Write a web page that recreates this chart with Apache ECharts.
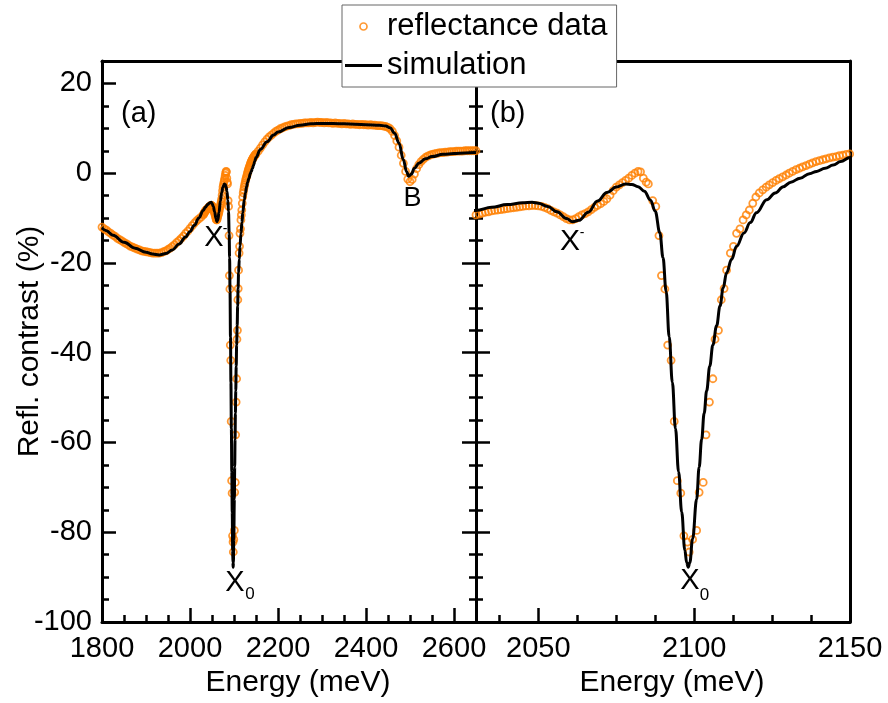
<!DOCTYPE html>
<html><head><meta charset="utf-8">
<script src="https://cdn.jsdelivr.net/npm/echarts@6/dist/echarts.min.js"></script>
<style>html,body{margin:0;padding:0;background:#fff}#c{width:888px;height:703px}</style>
</head><body><div id="c"></div>
<script>
// ---- tick labels ----
const xMajorA = [1800, 2000, 2200, 2400, 2600];
const xMinorA = [1850, 1900, 1950, 2050, 2100, 2150, 2250, 2300, 2350, 2450, 2500, 2550, 2650];
const xMajorB = [2050, 2100, 2150];
const xMinorB = [2037.5, 2062.5, 2075, 2087.5, 2112.5, 2125, 2137.5];
const yMajor = [-100, -80, -60, -40, -20, 0, 20];
const yMinor = [-95, -90, -85, -75, -70, -65, -55, -50, -45, -35, -30, -25, -15, -10, -5, 5, 10, 15, 25];

// ---- reflectance data [energy meV, contrast %] ----
const reflLow = [[1800,-12.0],[1805,-12.4],[1810,-12.7],[1815,-13.1],[1820,-13.4],[1825,-13.8],[1830,-14.1],[1835,-14.5],[1840,-14.8],[1845,-15.1],[1850,-15.4],[1855,-15.7],[1860,-16.0],[1865,-16.3],[1870,-16.5],[1875,-16.7],[1880,-16.9],[1885,-17.1],[1890,-17.3],[1895,-17.4],[1900,-17.5],[1905,-17.6],[1910,-17.7],[1915,-17.8],[1920,-17.8],[1925,-17.8],[1930,-17.8],[1935,-17.7],[1940,-17.5],[1945,-17.3],[1950,-17.0],[1955,-16.7],[1960,-16.3],[1965,-15.9],[1970,-15.4],[1975,-15.0],[1980,-14.5],[1985,-14.0],[1990,-13.4],[1995,-12.9],[2000,-12.3],[2005,-11.7],[2010,-11.1],[2015,-10.6],[2020,-10.2],[2025,-9.8]];
const reflTrion = [[2030,-9.3],[2031,-9.1],[2032,-8.9],[2033,-8.7],[2034,-8.6],[2035,-8.4],[2036,-8.3],[2037,-8.2],[2038,-8.1],[2039,-8.0],[2040,-7.9],[2041,-7.8],[2042,-7.7],[2043,-7.6],[2044,-7.5],[2045,-7.4],[2046,-7.3],[2047,-7.3],[2048,-7.2],[2049,-7.2],[2050,-7.3],[2051,-7.4],[2052,-7.6],[2053,-7.9],[2054,-8.3],[2055,-8.6],[2056,-8.9],[2057,-9.3],[2058,-9.7],[2059,-10.1],[2060,-10.4],[2061,-10.4],[2062,-10.1],[2063,-9.7],[2064,-9.3],[2065,-9.0],[2066,-8.6],[2067,-8.1],[2068,-7.6],[2069,-7.2],[2070,-6.8],[2071,-6.3],[2072,-5.7],[2073,-4.9],[2074,-3.9],[2075,-3.1],[2076,-2.6],[2077,-2.1],[2078,-1.6],[2079,-1.1],[2080,-0.5],[2081,0.0],[2082,0.4],[2082.8,0.3],[2083.7,-1.1],[2084.6,-2.0],[2085.3,-2.4]];
const reflExciton = [[2086.7,-6.1],[2087.7,-7.4],[2088.7,-13.9],[2089.5,-22.8],[2090.6,-25.8],[2091.5,-38.3],[2092.6,-41.7],[2093.6,-55.3],[2094.6,-68.5],[2095.7,-71.3],[2096.7,-80.8],[2097.8,-82.2],[2098.4,-84.4],[2099.5,-81.6],[2100.8,-79.6],[2101.6,-71.1],[2102.9,-68.9],[2103.8,-58.3],[2104.9,-51.0],[2106.0,-45.8],[2106.7,-37.0],[2107.8,-35.0],[2108.7,-28.2],[2109.6,-25.7],[2110.4,-21.6],[2111.6,-17.8],[2112.6,-16.3],[2113.6,-13.4],[2114.7,-12.4],[2115.7,-10.4],[2116.7,-9.3],[2117.7,-8.2],[2118.8,-6.7],[2119.8,-5.3],[2120.9,-4.4],[2122.0,-3.7],[2123.1,-3.1],[2124.1,-2.6],[2125.2,-2.1],[2126.3,-1.6],[2127.3,-1.2],[2128.4,-0.8],[2129.5,-0.4],[2130.5,0.0],[2131.6,0.4],[2132.7,0.8],[2133.8,1.1],[2134.8,1.4],[2135.9,1.7],[2137.0,2.0],[2138.0,2.3],[2139.1,2.6],[2140.2,2.8],[2141.3,3.0],[2142.3,3.2],[2143.4,3.4],[2144.5,3.6],[2145.6,3.7],[2146.6,3.9],[2147.7,4.0],[2148.8,4.2],[2149.9,4.3]];
const reflHigh = [[2155,4.9],[2160,5.6],[2165,6.3],[2170,7.0],[2175,7.6],[2180,8.1],[2185,8.5],[2190,8.9],[2195,9.3],[2200,9.6],[2205,9.9],[2210,10.1],[2215,10.3],[2220,10.5],[2225,10.6],[2230,10.8],[2235,10.9],[2240,11.0],[2245,11.0],[2250,11.1],[2255,11.1],[2260,11.2],[2265,11.2],[2270,11.2],[2275,11.3],[2280,11.2],[2285,11.3],[2290,11.4],[2295,11.3],[2300,11.3],[2305,11.2],[2310,11.3],[2315,11.2],[2320,11.2],[2325,11.1],[2330,11.2],[2335,11.1],[2340,11.1],[2345,11.0],[2350,11.1],[2355,11.0],[2360,11.0],[2365,10.9],[2370,11.0],[2375,10.9],[2380,10.9],[2385,10.8],[2390,10.9],[2395,10.8],[2400,10.8],[2405,10.7],[2410,10.8],[2415,10.7],[2420,10.7],[2425,10.6],[2430,10.6],[2435,10.6],[2440,10.5],[2445,10.4],[2450,10.2],[2455,9.9],[2460,9.3],[2465,8.4],[2470,7.2],[2475,5.8],[2480,4.0],[2485,2.2],[2490,0.4],[2495,-1.3],[2500,-1.9],[2505,-1.4],[2510,-0.2],[2515,1.0],[2520,1.9],[2525,2.6],[2530,3.1],[2535,3.5],[2540,3.8],[2545,4.0],[2550,4.2],[2555,4.3],[2560,4.4],[2565,4.5],[2570,4.6],[2575,4.6],[2580,4.7],[2585,4.7],[2590,4.8],[2595,4.8],[2600,4.8],[2605,4.9],[2610,4.9],[2615,4.9],[2620,4.9],[2625,5.0],[2630,5.0],[2635,5.0],[2640,5.0],[2645,5.0],[2650,5.0]];

// ---- simulation [energy meV, contrast %] ----
const simLow = [[1800,-12.2],[1810,-12.8],[1825,-13.8],[1850,-15.4],[1875,-16.7],[1900,-17.6],[1915,-18.0],[1930,-18.2],[1945,-17.9],[1960,-17.1],[1975,-15.8],[1990,-14.2],[2000,-13.0],[2010,-11.6],[2020,-10.0],[2030,-8.3]];
const simMid = [[2035,-7.6],[2040,-7.0],[2045,-6.6],[2048,-6.5],[2050,-6.7],[2053,-7.4],[2056,-8.6],[2059,-10.1],[2061,-10.8],[2063,-10.5],[2066,-8.7],[2069,-6.2],[2072,-4.3],[2075,-3.1],[2078,-2.4],[2080,-2.5],[2082,-3.0],[2084,-4.0],[2086,-6.0],[2087.5,-8.5],[2089,-13.3],[2090,-18.8],[2091,-26.3],[2092,-36.5],[2093,-46.6],[2094,-56.9],[2095,-66.5],[2096,-75.5],[2097,-84.0],[2097.6,-86.8],[2098.1,-87.8],[2098.6,-86.8],[2099.5,-81.5],[2100.8,-72.6],[2101.6,-65.5],[2102.4,-59.3],[2103.2,-53.5],[2104,-48.5],[2105,-43.0],[2106,-38.3],[2107.2,-34.0],[2108.3,-29.6],[2109.3,-25.6],[2110.4,-22.2],[2112,-19.2],[2113.6,-16.3],[2116,-13.3],[2118,-11.0],[2120,-8.8],[2123.3,-5.9],[2126,-4.4],[2128.6,-3.0],[2131,-2.0],[2134,-1.1],[2137,-0.1],[2139.3,0.4],[2142,1.1],[2144.6,1.8],[2147,2.6],[2150,3.5]];
const simHigh = [[2160,5.3],[2175,7.0],[2190,8.5],[2200,9.2],[2225,10.2],[2250,10.7],[2275,11.0],[2300,11.1],[2350,11.0],[2400,10.8],[2430,10.7],[2445,10.5],[2455,10.1],[2465,8.9],[2475,6.7],[2485,3.0],[2492,0.4],[2497,-0.7],[2503,-0.2],[2510,1.1],[2520,2.2],[2535,3.2],[2550,3.7],[2575,4.2],[2600,4.4],[2625,4.5],[2650,4.6]];

const refl = reflLow.concat(reflTrion, reflExciton, reflHigh);
const sim = simLow.concat(simMid, simHigh);

const F = 'Liberation Sans, Arial, Helvetica, sans-serif';
const ORANGE = '#ff8000';
const BLACK = '#000';
const lineS = {color: BLACK, width: 3};
const tickS = {color: BLACK, width: 2.5};

function axis(grid, pos, min, max, o) {
  o = o || {};
  const a = {
    type: 'value', gridIndex: grid, position: pos, min: min, max: max,
    axisLine: {show: !!o.line, onZero: false, lineStyle: lineS},
    axisTick: o.ticks ? {show: true, inside: true, length: o.len, lineStyle: tickS, customValues: o.ticks} : {show: false},
    axisLabel: o.labels ? {show: true, customValues: o.labels, margin: o.margin, color: BLACK, fontSize: 29, fontFamily: F,
      formatter: function (v) { return String(v); }} : {show: false},
    splitLine: {show: false}, minorTick: {show: false}, minorSplitLine: {show: false}
  };
  if (o.name) {
    a.name = o.name; a.nameLocation = 'middle'; a.nameGap = o.nameGap; a.nameMoveOverlap = false;
    a.nameTextStyle = {color: BLACK, fontSize: 30, fontFamily: F, padding: o.namePad || 0};
  }
  return a;
}

const chart = echarts.init(document.getElementById('c'), null, {renderer: 'canvas'});
chart.setOption({
  animation: false,
  backgroundColor: '#fff',
  grid: [
    {left: 102, top: 61, width: 374, height: 562},
    {left: 476, top: 61, width: 374, height: 562}
  ],
  xAxis: [
    axis(0, 'bottom', 1800, 2650, {line: true, ticks: xMajorA, len: 14, labels: xMajorA, margin: 12, name: 'Energy (meV)', nameGap: 46, namePad: [0, 0, 0, 18]}),
    axis(0, 'bottom', 1800, 2650, {ticks: xMinorA, len: 7}),
    axis(0, 'top', 1800, 2650, {line: true}),
    axis(1, 'bottom', 2030, 2150, {line: true, ticks: xMajorB, len: 14, labels: xMajorB, margin: 12, name: 'Energy (meV)', nameGap: 46, namePad: [0, 0, 0, 18]}),
    axis(1, 'bottom', 2030, 2150, {ticks: xMinorB, len: 7}),
    axis(1, 'top', 2030, 2150, {line: true})
  ],
  yAxis: [
    axis(0, 'left', -100, 25, {line: true, ticks: yMajor, len: 14, labels: yMajor, margin: 10, name: 'Refl. contrast (%)', nameGap: 57}),
    axis(0, 'left', -100, 25, {ticks: yMinor, len: 7}),
    axis(0, 'right', -100, 25, {line: true, ticks: yMajor, len: 14}),
    axis(0, 'right', -100, 25, {ticks: yMinor, len: 7}),
    axis(1, 'left', -100, 25, {line: true, ticks: yMajor, len: 14}),
    axis(1, 'left', -100, 25, {ticks: yMinor, len: 7}),
    axis(1, 'right', -100, 25, {line: true})
  ],
  legend: {
    left: 342, top: 5, orient: 'vertical', padding: [6, 9, 6, 3], itemGap: 8,
    itemWidth: 37, itemHeight: 7, backgroundColor: '#fff', borderColor: '#666', borderWidth: 1,
    textStyle: {fontSize: 31, fontFamily: F, color: BLACK, lineHeight: 30},
    selectedMode: false,
    data: [
      {name: 'reflectance data', icon: 'circle', itemStyle: {color: 'rgba(255,255,255,0)', borderColor: ORANGE, borderWidth: 1.7}},
      {name: 'simulation', icon: 'path://M0,0H37V3H0Z', itemStyle: {color: BLACK, borderWidth: 0}}
    ]
  },
  series: [
    {type: 'scatter', name: 'reflectance data', xAxisIndex: 0, yAxisIndex: 0, data: refl, symbol: 'circle', symbolSize: 7, clip: true, silent: true, z: 2,
      itemStyle: {color: 'rgba(255,255,255,0)', borderColor: ORANGE, borderWidth: 1.8}},
    {type: 'line', name: 'simulation', xAxisIndex: 0, yAxisIndex: 0, data: sim, symbol: 'none', showSymbol: false, smooth: 0.4, smoothMonotone: 'x', clip: true, silent: true, z: 3,
      itemStyle: {color: BLACK}, lineStyle: {color: BLACK, width: 3}},
    {type: 'scatter', name: 'reflectance data', xAxisIndex: 3, yAxisIndex: 4, data: refl, symbol: 'circle', symbolSize: 7, clip: true, silent: true, z: 2,
      itemStyle: {color: 'rgba(255,255,255,0)', borderColor: ORANGE, borderWidth: 1.8}},
    {type: 'line', name: 'simulation', xAxisIndex: 3, yAxisIndex: 4, data: sim, symbol: 'none', showSymbol: false, smooth: 0.4, smoothMonotone: 'x', clip: true, silent: true, z: 3,
      itemStyle: {color: BLACK}, lineStyle: {color: BLACK, width: 3}}
  ],
  graphic: [
    {type: 'text', x: 121, y: 114, style: {text: '(a)', fontSize: 29, fontFamily: F, fill: BLACK, align: 'left', verticalAlign: 'middle'}},
    {type: 'text', x: 490, y: 114, style: {text: '(b)', fontSize: 29, fontFamily: F, fill: BLACK, align: 'left', verticalAlign: 'middle'}},
    {type: 'text', x: 412.5, y: 199, style: {text: 'B', fontSize: 27, fontFamily: F, fill: BLACK, align: 'center', verticalAlign: 'middle'}},
    {type: 'text', x: 214, y: 238, style: {text: 'X', fontSize: 29, fontFamily: F, fill: BLACK, align: 'center', verticalAlign: 'middle'}},
    {type: 'text', x: 225, y: 229, style: {text: '-', fontSize: 14, fontFamily: F, fill: BLACK, align: 'center', verticalAlign: 'middle'}},
    {type: 'text', x: 570, y: 241.5, style: {text: 'X', fontSize: 30, fontFamily: F, fill: BLACK, align: 'center', verticalAlign: 'middle'}},
    {type: 'text', x: 582, y: 233, style: {text: '-', fontSize: 14, fontFamily: F, fill: BLACK, align: 'center', verticalAlign: 'middle'}},
    {type: 'text', x: 235, y: 582.5, style: {text: 'X', fontSize: 29, fontFamily: F, fill: BLACK, align: 'center', verticalAlign: 'middle'}},
    {type: 'text', x: 250, y: 594, style: {text: '0', fontSize: 17, fontFamily: F, fill: BLACK, align: 'center', verticalAlign: 'middle'}},
    {type: 'text', x: 690, y: 581, style: {text: 'X', fontSize: 29, fontFamily: F, fill: BLACK, align: 'center', verticalAlign: 'middle'}},
    {type: 'text', x: 704.5, y: 595, style: {text: '0', fontSize: 17, fontFamily: F, fill: BLACK, align: 'center', verticalAlign: 'middle'}}
  ]
});
</script></body></html>
